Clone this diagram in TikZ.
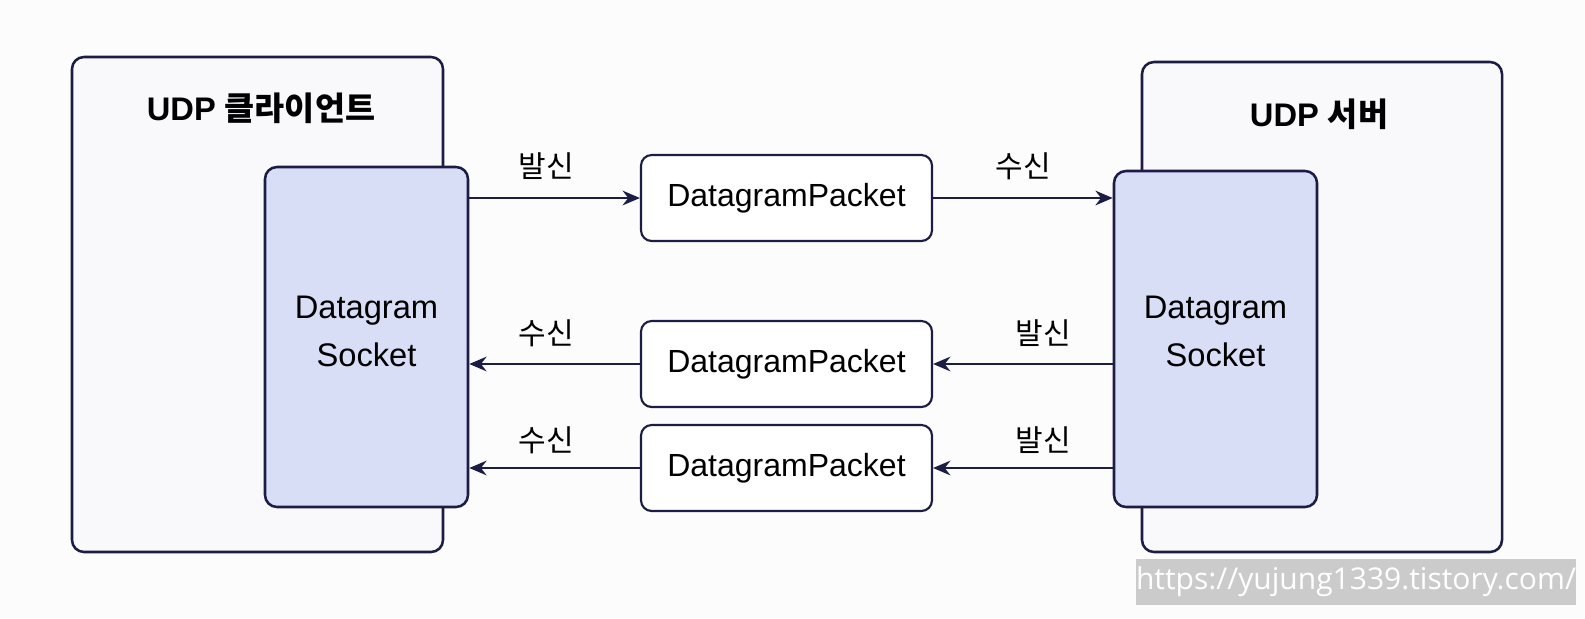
\documentclass[tikz,border=0pt]{standalone}
\usepackage{fontspec}
\setmainfont{Liberation Sans}
\newfontfamily\kr{Noto Sans CJK KR}
\newfontfamily\wm{Open Sans}
\usetikzlibrary{arrows.meta}
\definecolor{navy}{HTML}{1B1D45}
\definecolor{outerfill}{HTML}{F9F9FB}
\definecolor{innerfill}{HTML}{D8DEF6}
\definecolor{bgc}{HTML}{FCFCFD}
\definecolor{wmgray}{HTML}{CBCBCB}
\tikzset{
  outerbox/.style={draw=navy, line width=1.9pt, fill=outerfill, rounded corners=9pt, inner sep=0pt},
  innerbox/.style={draw=navy, line width=1.9pt, fill=innerfill, rounded corners=9pt, inner sep=0pt},
  packetbox/.style={draw=navy, line width=1.6pt, fill=white, rounded corners=8pt, inner sep=0pt,
    minimum width=218.25pt, minimum height=64.5pt, font=\fontsize{24}{28}\selectfont},
  title/.style={font=\bfseries\fontsize{24.5}{28}\selectfont, inner sep=0pt},
  lab/.style={font=\kr\fontsize{22.5}{26}\selectfont, inner sep=0pt},
  socktext/.style={align=center, font=\fontsize{24.5}{36}\selectfont, inner sep=0pt},
  conn/.style={draw=navy, line width=1.5pt, -{Stealth[length=13pt,width=11pt]}},
}
\begin{document}
\begin{tikzpicture}[x=0.75pt, y=-0.75pt]
\fill[bgc] (0,0) rectangle (1585,618);
\useasboundingbox (0,0) rectangle (1585,618);
% outer boxes
\node[outerbox, minimum width=278.25pt, minimum height=371.25pt] (lo) at (257.5,304.5) {};
\node[outerbox, minimum width=270pt, minimum height=367.5pt] (ro) at (1322,307) {};
\node[title] (lt) at (261,108) {UDP {\kr\bfseries 클라이언트}};
\node[title] (rt) at (1319,114) {UDP {\kr\bfseries 서버}};
% inner boxes
\node[innerbox, minimum width=152.25pt, minimum height=255pt] (li) at (366.5,337) {};
\node[innerbox, minimum width=152.25pt, minimum height=252pt] (ri) at (1215.5,339) {};
\node[socktext] (lit) at (366.5,331) {Datagram\\Socket};
\node[socktext] (rit) at (1215.5,331) {Datagram\\Socket};
% packets
\node[packetbox] (p1) at (786.5,198) {DatagramPacket};
\node[packetbox] (p2) at (786.5,364) {DatagramPacket};
\node[packetbox] (p3) at (786.5,468) {DatagramPacket};
% arrows
\draw[conn] (li.east |- p1.west) -- (p1.west);
\draw[conn] (p1.east) -- (ri.west |- p1.east);
\draw[conn] (p2.west) -- (li.east |- p2.west);
\draw[conn] (ri.west |- p2.east) -- (p2.east);
\draw[conn] (p3.west) -- (li.east |- p3.west);
\draw[conn] (ri.west |- p3.east) -- (p3.east);
% labels
\node[lab] (l1) at (546,166) {발신};
\node[lab] (l2) at (1023,166) {수신};
\node[lab] (l3) at (546,333) {수신};
\node[lab] (l4) at (1043,333) {발신};
\node[lab] (l5) at (546,440) {수신};
\node[lab] (l6) at (1043,440) {발신};
% watermark
\node[fill=wmgray, text=white, inner sep=0pt, minimum width=329.25pt, minimum height=34.5pt,
  font=\wm\fontsize{22.5}{26}\selectfont] (wm) at (1356,582) {https://yujung1339.tistory.com/};
\end{tikzpicture}
\end{document}
